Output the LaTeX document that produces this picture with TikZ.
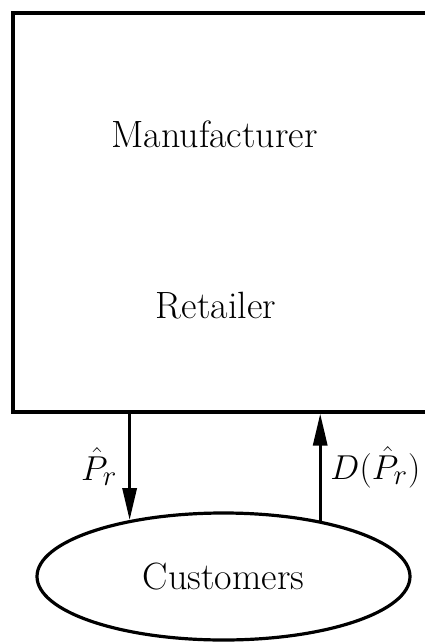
\documentclass[tikz,border=0pt]{standalone}
\usepackage{tikz}
\usetikzlibrary{arrows.meta,shapes.geometric}
\def\ph{\hat{P}_r}

\begin{document}
\begin{tikzpicture}[x=0.5pt,y=-0.5pt,line width=1.6pt,font=\fontsize{19}{23}\selectfont,
    flow/.style={-{Triangle[length=16pt,width=7pt]}}]
    \useasboundingbox (0,0) rectangle (424,642);

    \node[draw,minimum width=208.5pt,minimum height=199.5pt,inner sep=0pt] (firm) at (221.5,212.5) {};
    \node[anchor=base] (manu) at (214.5,148) {Manufacturer};
    \node[anchor=base] (ret) at (216,318) {Retailer};

    \node[draw,ellipse,minimum width=186.5pt,minimum height=63.5pt,inner sep=0pt] (cust) at (223.5,576.5) {Customers};

    \draw[flow] (cust.149.5 |- firm.south) to node[left=2pt] {$\ph$} (cust.149.5);
    \draw[flow] (cust.30.5) to node[right=1pt] {$D(\ph)$} (cust.30.5 |- firm.south);
\end{tikzpicture}
\end{document}
